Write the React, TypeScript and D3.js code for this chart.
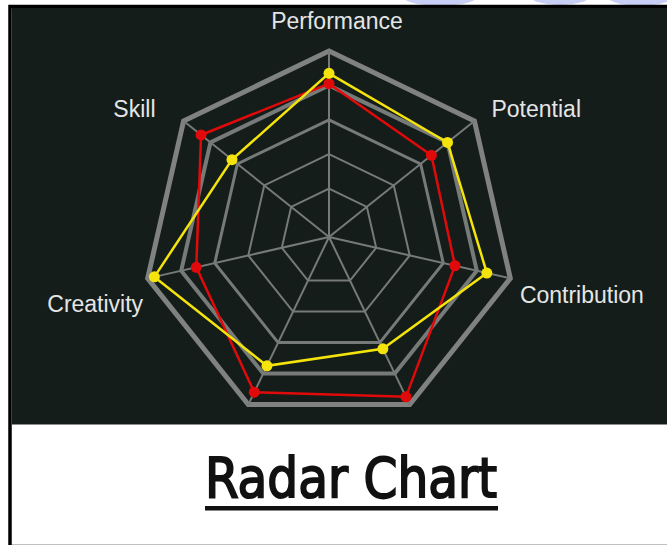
import * as d3 from "d3"

// axes, clockwise from the top; the two bottom axes carry no label in the picture
const categories = ["Performance", "Potential", "Contribution", "", "", "Creativity", "Skill"]
const redValues = [81, 68, 67, 95, 92, 71, 87]
const yellowValues = [87, 80, 86, 64, 75, 96, 64]
const ringLevels = [20, 40, 60, 80, 100]
const title = "Radar Chart"

const W = 667
const H = 545
const cx = 329
const cy = 237
const R = 186

// hand-placed label nudges (x, baseline) relative to the radial anchor
const labelNudge: [number, number][] = [
  [8, -4],
  [3, 7],
  [-8, 21],
  [0, 0],
  [0, 0],
  [13, 30],
  [-14, 7],
]

const ringWidth: Record<number, number> = { 20: 2, 40: 2, 60: 3, 80: 4, 100: 5 }

export default function App() {
  const n = categories.length
  const angle = d3
    .scaleLinear()
    .domain([0, n])
    .range([0, 2 * Math.PI])
  const r = d3.scaleLinear().domain([0, 100]).range([14, R])

  const ringPath = (level: number) =>
    d3
      .lineRadial<number>()
      .angle((_, i) => angle(i))
      .radius(() => r(level))
      .curve(d3.curveLinearClosed)(d3.range(n)) || ""

  const seriesPath = (vals: number[]) =>
    d3
      .lineRadial<number>()
      .angle((_, i) => angle(i))
      .radius((d) => r(d))
      .curve(d3.curveLinearClosed)(vals) || ""

  const pt = (i: number, rad: number) => [rad * Math.sin(angle(i)), -rad * Math.cos(angle(i))]

  const series = [
    { values: redValues, color: "#e10a0a" },
    { values: yellowValues, color: "#f4e40c" },
  ]

  return (
    <svg
      width={W}
      height={H}
      style={{ position: "absolute", left: 0, top: 0, background: "#fff" }}
    >
      {/* watermark blobs peeking in at the top */}
      <g fill="#c9cff4">
        <ellipse cx={440} cy={-6} rx={40} ry={12} />
        <ellipse cx={560} cy={-4} rx={30} ry={9} />
        <ellipse cx={640} cy={-6} rx={35} ry={12} />
      </g>

      {/* frame */}
      <rect x={10} y={6.5} width={W + 10} height={H - 5} fill="#fff" stroke="#000" strokeWidth={3.5} />
      <rect x={12} y={8} width={W - 12} height={416} fill="#151d1b" />
      <line x1={12} x2={W} y1={424.5} y2={424.5} stroke="#8a8f8c" strokeWidth={1} />

      <g transform={`translate(${cx},${cy})`}>
        {/* grid */}
        {ringLevels.map((lv) => (
          <path
            key={lv}
            d={ringPath(lv)}
            fill="none"
            stroke={lv === 100 ? "#7f8280" : "#767a78"}
            strokeWidth={ringWidth[lv]}
            strokeLinejoin="miter"
          />
        ))}
        {d3.range(n).map((i) => {
          const [x, y] = pt(i, r(100))
          return <line key={i} x1={0} y1={0} x2={x} y2={y} stroke="#767a78" strokeWidth={2} />
        })}

        {/* series */}
        {series.map((s, k) => (
          <g key={k}>
            <path d={seriesPath(s.values)} fill="none" stroke={s.color} strokeWidth={2.5} />
            {s.values.map((v, i) => {
              const [x, y] = pt(i, r(v))
              return <circle key={i} cx={x} cy={y} r={5.5} fill={s.color} />
            })}
          </g>
        ))}

        {/* axis labels */}
        {categories.map((c, i) => {
          if (!c) return null
          const [x, y] = pt(i, R + 18)
          const anchor = Math.abs(x) < 1 ? "middle" : x > 0 ? "start" : "end"
          return (
            <text
              key={c}
              x={x + labelNudge[i][0]}
              y={y + labelNudge[i][1]}
              textAnchor={anchor}
              fill="#e4e6e5"
              fontFamily="'Liberation Sans', Arial, sans-serif"
              fontSize={23}
            >
              {c}
            </text>
          )
        })}
      </g>

      {/* title */}
      <text
        x={351}
        y={497}
        textAnchor="middle"
        fontFamily="'DejaVu Sans Condensed', 'DejaVu Sans', sans-serif"
        fontSize={56}
        fill="#111"
        stroke="#111"
        strokeWidth={1.8}
        textLength={292}
        lengthAdjust="spacingAndGlyphs"
      >
        {title}
      </text>
      <rect x={205} y={506} width={293} height={4.5} fill="#111" />
    </svg>
  )
}
